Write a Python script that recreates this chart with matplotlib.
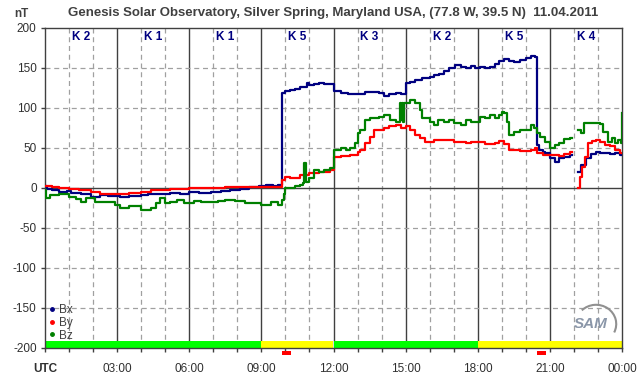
"""
Magnetometer plot: Bx, By, Bz over one UTC day with K-index labels.
"""

import numpy as np
import matplotlib
matplotlib.use("Agg")
import matplotlib.pyplot as plt
from matplotlib.lines import Line2D
from matplotlib.patches import Rectangle, Arc

# ── Data ──────────────────────────────────────────────────────────────────────

TITLE = "Genesis Solar Observatory, Silver Spring, Maryland USA, (77.8 W, 39.5 N)  11.04.2011"

K_INDEX = ["K 2", "K 1", "K 1", "K 5", "K 3", "K 2", "K 5", "K 4"]

X_TICKS  = [0, 3, 6, 9, 12, 15, 18, 21, 24]
X_LABELS = ["UTC", "03:00", "06:00", "09:00", "12:00", "15:00", "18:00", "21:00", "00:00"]
Y_TICKS  = [200, 150, 100, 50, 0, -50, -100, -150, -200]

# bar below the traces: (start hour, end hour, colour name)
STRIP = [(0, 9, "green"), (9, 12, "yellow"), (12, 18, "green"), (18, 24, "yellow")]
ALERTS = [(9.87, 10.23), (20.47, 20.84)]

bx_hours = [0.0, 0.1, 0.3, 0.6, 0.9, 1.1, 1.5, 1.9, 2.3, 2.6, 3.1, 3.5, 4.0, 4.3,
            4.7, 5.0, 5.2, 5.6, 6.0, 6.4, 6.9, 7.3, 7.7, 8.1, 8.5, 8.9, 9.2, 9.5,
            9.7, 9.87, 10.0, 10.2, 10.4, 10.6, 10.9, 11.0, 11.2, 11.4, 11.6, 11.85,
            12.0, 12.3, 12.6, 12.9, 13.1, 13.3, 13.6, 13.9, 14.1, 14.3, 14.6, 14.8,
            15.0, 15.2, 15.4, 15.7, 16.0, 16.2, 16.4, 16.6, 16.8, 17.05, 17.3, 17.5,
            17.7, 17.9, 18.1, 18.3, 18.5, 18.7, 18.9, 19.1, 19.3, 19.5, 19.75, 20.0,
            20.2, 20.4, 20.47, 20.55, 20.7, 20.8, 21.0, 21.2, 21.4, 21.6, 21.84, 21.9,
            22.17, 22.3, 22.5, 22.7, 22.9, 23.1, 23.3, 23.5, 23.7, 23.9, 24.0]
bx_values = [2, -1, -3, -5, -4, -6, -8, -11, -9, -10, -11, -10, -9, -8,
             -7, -8, -6, -7, -5, -6, -5, -4, -2, -1, 1, 2, 4, 2,
             4, 119, 121, 122, 124, 126, 131, 129, 130, 131, 130, 130,
             121, 119, 118, 117, 118, 120, 120, 119, 115, 118, 119, 117,
             131, 133, 135, 137, 139, 141, 143, 146, 150, 154, 151, 150,
             152, 150, 151, 150, 151, 155, 159, 161, 159, 158, 160, 163,
             165, 164, 54, 48, 45, 44, 37, 33, 37, 39, 41, np.nan,
             20, 29, 37, 42, 45, 44, 44, 42, 44, 41, 41]

by_hours = [0.0, 0.3, 0.6, 1.0, 1.4, 1.9, 2.3, 2.7, 3.1, 3.5, 4.0, 4.4, 4.7, 5.2,
            5.6, 6.0, 6.5, 7.0, 7.5, 8.0, 8.5, 8.9, 9.3, 9.87, 10.0, 10.2, 10.4,
            10.6, 11.0, 11.4, 11.85, 12.0, 12.3, 12.7, 13.0, 13.1, 13.3, 13.5, 13.7,
            14.1, 14.3, 14.6, 14.8, 15.0, 15.2, 15.4, 15.6, 15.8, 16.2, 16.6, 17.0,
            17.5, 17.7, 18.3, 18.7, 18.9, 19.1, 19.3, 19.75, 20.2, 20.4, 20.47, 20.7,
            21.0, 21.4, 21.6, 21.84, 21.9, 22.17, 22.25, 22.33, 22.45, 22.6, 22.75,
            22.9, 23.1, 23.3, 23.5, 23.7, 23.9, 24.0]
by_values = [3, 1, 0, -1, -2, -5, -7, -7, -7, -6, -5, -3, -2, -1,
             -1, 0, 0, 0, 1, 1, 1, 1.5, 1, 10, 14, 12, 12,
             16, 19, 20, 22, 39, 40, 41, 45, 47, 56, 64, 72,
             75, 77, 79, 75, 77, 72, 66, 62, 58, 60, 60, 58,
             56, 57, 55, 56, 59, 55, 48, 46, 48, 50, 44, 41,
             41, 40, 43, 45, np.nan, 0, 14, 26, 39, 56, 59,
             60, 58, 54, 52, 47, 44, 44]

bz_hours = [0.0, 0.05, 0.2, 0.6, 1.0, 1.3, 1.5, 1.7, 2.1, 2.5, 2.9, 3.1, 3.5, 4.0,
            4.4, 4.6, 4.8, 5.0, 5.2, 5.5, 5.8, 6.2, 6.5, 6.9, 7.2, 7.5, 7.9, 8.3,
            8.7, 9.0, 9.4, 9.7, 9.85, 9.95, 10.0, 10.4, 10.6, 10.75, 10.78, 10.85,
            11.0, 11.2, 11.4, 11.6, 11.85, 12.0, 12.3, 12.5, 12.7, 12.9, 13.0, 13.1,
            13.3, 13.5, 13.9, 14.1, 14.35, 14.6, 14.75, 14.8, 14.85, 14.9, 14.95,
            15.2, 15.4, 15.6, 15.7, 16.0, 16.2, 16.35, 16.6, 16.8, 17.0, 17.3, 17.5,
            17.7, 18.1, 18.3, 18.5, 18.7, 18.9, 19.0, 19.1, 19.2, 19.3, 19.5, 19.75,
            20.0, 20.2, 20.35, 20.47, 20.6, 20.8, 21.0, 21.2, 21.4, 21.6, 21.84, 21.9,
            22.17, 22.3, 22.4, 22.7, 23.1, 23.2, 23.4, 23.6, 23.7, 23.85, 23.95,
            23.98, 24.0]
bz_values = [-2, -12, -9, -7, -11, -14, -17, -12, -17, -18, -21, -25, -23, -27,
             -25, -19, -12, -19, -17, -15, -19, -16, -17, -18, -16, -15, -16, -19,
             -19, -21, -18, -21, -15, -8, 0, 2, 4, 6, 31, 8,
             12, 22, 20, 22, 25, 47, 50, 47, 50, 56, 69, 72,
             85, 87, 89, 91, 85, 83, 106, 85, 106, 83, 106,
             110, 106, 97, 87, 83, 79, 85, 83, 85, 81, 79, 85,
             82, 89, 87, 91, 87, 91, 95, 94, 82, 66, 70, 72,
             72, 79, 75, 69, 64, 57, 50, 54, 56, 61, 63, np.nan,
             72, 69, 81, 81, 80, 70, 57, 62, 56, 60, 56,
             94, 94]

# ── Style ─────────────────────────────────────────────────────────────────────

DARK   = "#404040"
GRIDC  = "#a0a0a0"
NAVY   = "#000080"
RED    = "#ff0000"
GREEN  = "#008000"
STRIP_COLORS = {"green": "#00ff00", "yellow": "#ffff00"}

plt.rcParams["font.family"] = ["Liberation Sans", "DejaVu Sans"]
plt.rcParams["axes.unicode_minus"] = False

fig = plt.figure(figsize=(6.42, 3.76), dpi=100)
ax = fig.add_axes([45 / 642, 1 - 348 / 376, 577 / 642, 320 / 376])

ax.set_xlim(0, 24)
ax.set_ylim(-200, 200)

# grid: dashed every hour and every 50 nT, solid every 3 h and at zero
for h in range(1, 24):
    if h % 3 == 0:
        ax.axvline(h, color=DARK, lw=1.0, zorder=1)
    else:
        ax.axvline(h, color=GRIDC, lw=0.9, ls=(0, (4, 3)), zorder=1)
for v in [-150, -100, -50, 50, 100, 150]:
    ax.axhline(v, color=GRIDC, lw=0.9, ls=(0, (4, 3)), zorder=1)
ax.axhline(0, color=DARK, lw=1.0, zorder=1)

# activity strip
for start, end, name in STRIP:
    ax.add_patch(Rectangle((start, -200), end - start, 9,
                           facecolor=STRIP_COLORS[name], edgecolor="none", zorder=2))

# red markers below the axis
for start, end in ALERTS:
    ax.add_patch(Rectangle((start, -209), end - start, 5, facecolor=RED,
                           edgecolor="none", clip_on=False, zorder=5))

# traces
ax.step(bx_hours, bx_values, where="post", color=NAVY, lw=1.6, zorder=3)
ax.step(by_hours, by_values, where="post", color=RED, lw=1.6, zorder=3)
ax.step(bz_hours, bz_values, where="post", color=GREEN, lw=1.6, zorder=3)

# K-index labels
for i, k in enumerate(K_INDEX):
    ax.text(i * 3 + 1.5, 189, k, ha="center", va="center", color=NAVY,
            fontsize=8.5, fontweight="bold", zorder=4)

# axes, ticks
for s in ax.spines.values():
    s.set_color(DARK)
    s.set_linewidth(1.0)
ax.set_xticks(range(25), minor=True)
ax.set_xticks(X_TICKS)
ax.set_xticklabels(X_LABELS)
ax.set_yticks(Y_TICKS)
ax.tick_params(axis="both", which="both", color=DARK, length=3, width=1,
               labelsize=8.5, labelcolor="#303030", pad=3)
ax.tick_params(axis="x", which="major", pad=8)
ax.get_xticklabels()[0].set_fontweight("bold")

# legend
handles = [Line2D([0], [0], marker="o", ms=2.5, ls="none", color=c)
           for c in (NAVY, RED, GREEN)]
leg = ax.legend(handles, ["Bx", "By", "Bz"], loc="lower left",
                bbox_to_anchor=(-0.006, -0.002), frameon=False, fontsize=8.5,
                handlelength=0.6, handletextpad=0.3, labelspacing=0.05,
                borderpad=0.1)
for t in leg.get_texts():
    t.set_color(DARK)

# SAM logo
ax.text(0.945, 0.075, "SAM", transform=ax.transAxes, ha="center", va="center",
        fontsize=11, fontstyle="italic", fontweight="bold", color="#8a96a8",
        zorder=4)
ax.add_patch(Arc((0.955, 0.075), 0.07, 0.12, theta1=-40, theta2=120,
                 transform=ax.transAxes, color="#909090", lw=1.5, zorder=4))

# titles
fig.text(0.519, 1 - 13 / 376, TITLE, ha="center", va="center",
         fontsize=9.5, fontweight="bold", color=DARK)
fig.text(21 / 642, 1 - 14 / 376, "nT", ha="center", va="center",
         fontsize=8.5, fontweight="bold", color=DARK)

fig.savefig("out.png", dpi=100)
